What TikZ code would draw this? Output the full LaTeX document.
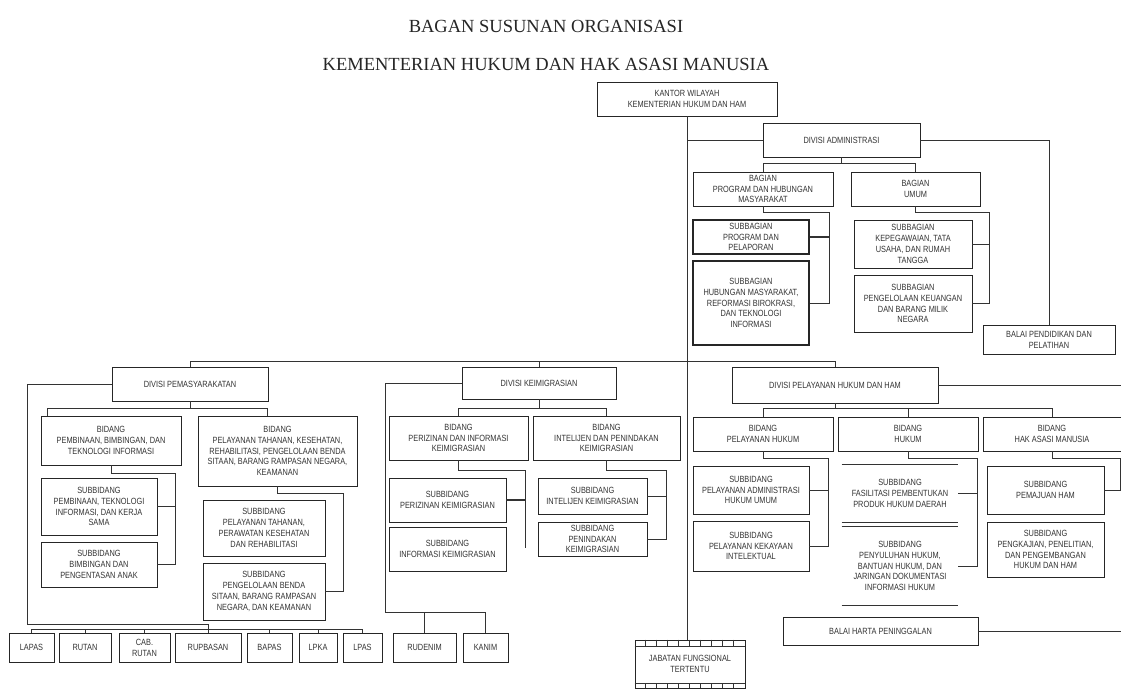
\documentclass[tikz,border=0pt]{standalone}
\usepackage{fontspec}
\setmainfont{Liberation Serif}
\newfontfamily\boxfont[FakeStretch=0.82]{Liberation Sans}
\usetikzlibrary{calc}
\newcommand\orgbox[7][]{%
  \pgfmathsetmacro\obx{(#3+#5)/2}%
  \pgfmathsetmacro\oby{(#4+#6)/2}%
  \pgfmathsetmacro\obw{#5-#3}%
  \pgfmathsetmacro\obh{#6-#4}%
  \node[obox,minimum width=\obw pt,minimum height=\obh pt,#1] (#2) at (\obx,\oby) {#7};}

\begin{document}
\begin{tikzpicture}[x=1pt, y=-1pt,
  obox/.style={draw=black!85, line width=0.7pt, fill=white, inner sep=1pt, align=center,
    font=\boxfont\fontsize{9}{10.8}\selectfont, text=black!80},
  thickbox/.style={line width=1.4pt},
  openbox/.style={draw=none},
  conn/.style={draw=black!80, line width=0.7pt},
  title/.style={font=\fontsize{18.5}{20}\selectfont, text=black!85}]

\useasboundingbox (0,0) rectangle (1121,689);
\fill[white] (0,0) rectangle (1121,689);

\node[title] (t1) at (546,26) {BAGAN SUSUNAN ORGANISASI};
\node[title] (t2) at (546,64) {KEMENTERIAN HUKUM DAN HAK ASASI MANUSIA};

\orgbox{kantor}{597}{82}{777}{116}{KANTOR WILAYAH\\KEMENTERIAN HUKUM DAN HAM}
\orgbox{dadm}{763}{123}{920}{157}{DIVISI ADMINISTRASI}
\orgbox{bprog}{693}{172}{833}{206}{BAGIAN\\PROGRAM DAN HUBUNGAN\\MASYARAKAT}
\orgbox{bumum}{851}{172}{980}{206}{BAGIAN\\UMUM}
\orgbox[thickbox]{sbprog}{693}{220}{809}{254}{SUBBAGIAN\\PROGRAM DAN\\PELAPORAN}
\orgbox[thickbox]{sbhum}{693}{261}{809}{345}{SUBBAGIAN\\HUBUNGAN MASYARAKAT,\\REFORMASI BIROKRASI,\\DAN TEKNOLOGI\\INFORMASI}
\orgbox{sbpeg}{854}{220}{972}{268}{SUBBAGIAN\\KEPEGAWAIAN, TATA\\USAHA, DAN RUMAH\\TANGGA}
\orgbox{sbkeu}{854}{275}{972}{332}{SUBBAGIAN\\PENGELOLAAN KEUANGAN\\DAN BARANG MILIK\\NEGARA}
\orgbox{bdiklat}{983}{325}{1115}{354}{BALAI PENDIDIKAN DAN\\PELATIHAN}

\orgbox{dpem}{112}{367}{268}{401}{DIVISI PEMASYARAKATAN}
\orgbox{dimig}{462}{367}{616}{399}{DIVISI KEIMIGRASIAN}
\orgbox{dpel}{732}{367}{938}{403}{DIVISI PELAYANAN HUKUM DAN HAM}

\orgbox{bpem}{41}{416}{181}{465}{BIDANG\\PEMBINAAN, BIMBINGAN, DAN\\TEKNOLOGI INFORMASI}
\orgbox{btah}{198}{416}{357}{486}{BIDANG\\PELAYANAN TAHANAN, KESEHATAN,\\REHABILITASI, PENGELOLAAN BENDA\\SITAAN, BARANG RAMPASAN NEGARA,\\KEAMANAN}
\orgbox{sbpem}{41}{478}{157}{535}{SUBBIDANG\\PEMBINAAN, TEKNOLOGI\\INFORMASI, DAN KERJA\\SAMA}
\orgbox{sbbim}{41}{542}{157}{587}{SUBBIDANG\\BIMBINGAN DAN\\PENGENTASAN ANAK}
\orgbox{sbtah}{203}{500}{325}{556}{SUBBIDANG\\PELAYANAN TAHANAN,\\PERAWATAN KESEHATAN\\DAN REHABILITASI}
\orgbox{sbbenda}{203}{563}{325}{620}{SUBBIDANG\\PENGELOLAAN BENDA\\SITAAN, BARANG RAMPASAN\\NEGARA, DAN KEAMANAN}

\orgbox{lapas}{9}{633}{54}{662}{LAPAS}
\orgbox{rutan}{59}{633}{111}{662}{RUTAN}
\orgbox{cabrutan}{119}{633}{170}{662}{CAB.\\RUTAN}
\orgbox{rupbasan}{175}{633}{241}{662}{RUPBASAN}
\orgbox{bapas}{247}{633}{292}{662}{BAPAS}
\orgbox{lpka}{299}{633}{337}{662}{LPKA}
\orgbox{lpas}{343}{633}{382}{662}{LPAS}
\orgbox{rudenim}{393}{633}{456}{662}{RUDENIM}
\orgbox{kanim}{463}{633}{508}{662}{KANIM}

\orgbox{bperiz}{389}{416}{528}{460}{BIDANG\\PERIZINAN DAN INFORMASI\\KEIMIGRASIAN}
\orgbox{bintel}{533}{416}{680}{460}{BIDANG\\INTELIJEN DAN PENINDAKAN\\KEIMIGRASIAN}
\orgbox{sbperiz}{389}{478}{506}{522}{SUBBIDANG\\PERIZINAN KEIMIGRASIAN}
\orgbox{sbinfo}{389}{527}{506}{571}{SUBBIDANG\\INFORMASI KEIMIGRASIAN}
\orgbox{sbintel}{538}{478}{647}{514}{SUBBIDANG\\INTELIJEN KEIMIGRASIAN}
\orgbox{sbpenin}{538}{522}{647}{556}{SUBBIDANG\\PENINDAKAN\\KEIMIGRASIAN}

\orgbox{bpelh}{693}{417}{833}{451}{BIDANG\\PELAYANAN HUKUM}
\orgbox{bhuk}{838}{417}{978}{451}{BIDANG\\HUKUM}
\orgbox{bham}{983}{417}{1121}{451}{BIDANG\\HAK ASASI MANUSIA}
\orgbox{sbadm}{693}{466}{809}{514}{SUBBIDANG\\PELAYANAN ADMINISTRASI\\HUKUM UMUM}
\orgbox{sbkek}{693}{521}{809}{571}{SUBBIDANG\\PELAYANAN KEKAYAAN\\INTELEKTUAL}
\orgbox[openbox]{sbfas}{842}{465}{958}{522}{SUBBIDANG\\FASILITASI PEMBENTUKAN\\PRODUK HUKUM DAERAH}
\orgbox[openbox]{sbpeny}{842}{527}{958}{605}{SUBBIDANG\\PENYULUHAN HUKUM,\\BANTUAN HUKUM, DAN\\JARINGAN DOKUMENTASI\\INFORMASI HUKUM}
\orgbox{sbpemham}{987}{466}{1104}{514}{SUBBIDANG\\PEMAJUAN HAM}
\orgbox{sbkaji}{987}{522}{1104}{577}{SUBBIDANG\\PENGKAJIAN, PENELITIAN,\\DAN PENGEMBANGAN\\HUKUM DAN HAM}
\orgbox{bhp}{783}{617}{978}{645}{BALAI HARTA PENINGGALAN}
\orgbox{jft}{635}{640}{745}{688}{JABATAN FUNGSIONAL\\TERTENTU}

\coordinate (jprog) at (829,212);
\coordinate (jumum) at (989,212);
\coordinate (jpem) at (175,473);
\coordinate (jtah) at (343,493);
\coordinate (jperiz) at (525,470);
\coordinate (jintel) at (666,470);
\coordinate (jpelh) at (828,458);
\coordinate (jhuk) at (977,458);
\coordinate (jham) at (1120,458);

\draw[conn, line width=1pt] (kantor.south) -- (kantor.south |- jft.north);
\draw[conn] (kantor.south |- dadm.west) -- (dadm.west);
\draw[conn] (dadm.east) -| (bdiklat.north);
\draw[conn] (dadm.south) -- ++(0,7);
\draw[conn, line width=1pt] (bprog.north) -- ++(0,-8) -| (bumum.north);
\draw[conn] (bprog.south) |- (jprog) |- (sbhum.east);
\draw[conn, line width=1.2pt] (sbprog.east) -- (sbprog.east -| jprog);
\draw[conn] (bumum.south) |- (jumum) |- (sbkeu.east);
\draw[conn] (sbpeg.east) -- (sbpeg.east -| jumum);

\draw[conn] (dpem.north) -- ++(0,-5) -| (dpel.north);
\draw[conn] (dimig.north) -- ++(0,-5);

\draw[conn] (dpem.south) -- ++(0,8);
\draw[conn] ([xshift=7pt]bpem.north west) -- ++(0,-7) -| ([xshift=70pt]btah.north west);
\draw[conn] (bpem.south) |- (jpem) |- (sbbim.east);
\draw[conn] (sbpem.east) -- (sbpem.east -| jpem);
\draw[conn, line width=1pt] (btah.south) |- (jtah) |- (sbbenda.east);
\draw[conn] (dpem.west) -| (27,624) -| (rupbasan.north);
\draw[conn] (lapas.north) -- ++(0,-3) -| (lpas.north);
\foreach \n in {rutan,cabrutan,bapas,lpka}
  \draw[conn] (\n.north) -- ++(0,-3);

\draw[conn] (dimig.south) -- ++(0,10);
\draw[conn] (bperiz.north) -- ++(0,-7) -| (bintel.north);
\draw[conn] (bperiz.south) |- (jperiz) -- (525,548);
\draw[conn, line width=1.2pt] (sbperiz.east) -- (sbperiz.east -| jperiz);
\draw[conn] (bintel.south) |- (jintel) |- (sbpenin.east);
\draw[conn] (sbintel.east) -- (sbintel.east -| jintel);
\draw[conn] (dimig.west) -| (385,612) -| (kanim.north);
\draw[conn] (rudenim.north) -- ++(0,-21);

\draw[conn] (dpel.east) -- ++(185,0);
\draw[conn, line width=1pt] (dpel.south) -- ++(0,6);
\draw[conn] (bpelh.north) -- ++(0,-8) -| (bham.north);
\draw[conn] (bhuk.north) -- ++(0,-8);
\draw[conn] (bpelh.south) |- (jpelh) |- (sbkek.east);
\draw[conn] (sbadm.east) -- (sbadm.east -| jpelh);
\draw[conn] (bhuk.south) |- (jhuk) |- (sbpeny.east);
\draw[conn] (sbfas.east) -- (sbfas.east -| jhuk);
\draw[conn] (bham.south) |- (jham) |- (sbpemham.east);
\draw[conn] (bhp.east) -- ++(145,0);

\draw[conn] (sbfas.north west) -- (sbfas.north east);
\draw[conn, line width=1pt] (sbfas.south west) -- (sbfas.south east);
\draw[conn] (sbpeny.north west) -- (sbpeny.north east);
\draw[conn, line width=1.4pt] (sbpeny.south west) -- (sbpeny.south east);

\draw[conn, line width=1.2pt] ([yshift=-7pt]jft.north west) -- ([yshift=-7pt]jft.north east);
\draw[conn, line width=1.2pt] ([yshift=5pt]jft.south west) -- ([yshift=5pt]jft.south east);
\foreach \i in {11,22,...,99} {
  \draw[conn] ([xshift=\i pt]jft.north west) -- ++(0,7);
  \draw[conn] ([xshift=\i pt]jft.south west) -- ++(0,-5);
}

\end{tikzpicture}
\end{document}
